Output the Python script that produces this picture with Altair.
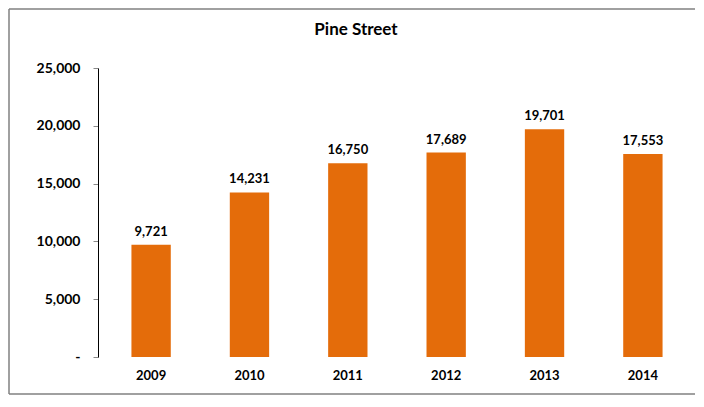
import altair as alt
import pandas as pd

years = ["2009", "2010", "2011", "2012", "2013", "2014"]
values = [9721, 14231, 16750, 17689, 19701, 17553]
y_ticks = [0, 5000, 10000, 15000, 20000, 25000]
title_text = "Pine Street"

df = pd.DataFrame({"year": years, "value": values})
FONT = "Lato"
ORANGE = "#E46C0A"
W = 598

base = alt.Chart(df)

bars = base.mark_bar(color=ORANGE).encode(
    x=alt.X(
        "year:N",
        title=None,
        sort=years,
        scale=alt.Scale(paddingInner=0.6, paddingOuter=0.34),
        axis=alt.Axis(
            domain=False, ticks=False, labelAngle=0, labelPadding=12,
            labelFont=FONT, labelFontWeight="bold", labelFontSize=13, labelColor="#000",
        ),
    ),
    y=alt.Y(
        "value:Q",
        title=None,
        scale=alt.Scale(domain=[0, 25000], nice=False),
        axis=alt.Axis(
            values=y_ticks, grid=False, domainColor="#000", domainWidth=1,
            tickColor="#888", tickSize=5, labelPadding=13,
            labelFont=FONT, labelFontWeight="bold", labelFontSize=14, labelColor="#000",
            labelExpr="datum.value == 0 ? '-' : format(datum.value, ',')",
        ),
    ),
)

labels = base.mark_text(
    font=FONT, fontWeight="bold", fontSize=13, color="#000", baseline="bottom", dy=-6
).encode(
    x=alt.X("year:N", sort=years),
    y="value:Q",
    text=alt.Text("value:Q", format=","),
)

one = pd.DataFrame({"k": [0]})

title_mark = alt.Chart(one).mark_text(
    font=FONT, fontWeight="bold", fontSize=17, color="#000", align="center", baseline="alphabetic"
).encode(
    x=alt.value(258),
    y=alt.value(-33),
    text=alt.value(title_text),
)

border_style = dict(color="#808080", strokeWidth=1.5)
left_line = alt.Chart(one).mark_rule(**border_style).encode(
    x=alt.value(-89), y=alt.value(-59), y2=alt.value(326)
)
top_line = alt.Chart(one).mark_rule(**border_style).encode(
    x=alt.value(-89), x2=alt.value(W - 1), y=alt.value(-59)
)
bottom_line = alt.Chart(one).mark_rule(**border_style).encode(
    x=alt.value(-89), x2=alt.value(W - 1), y=alt.value(326)
)

chart = alt.layer(bars, labels, title_mark, left_line, top_line, bottom_line).properties(
    width=W,
    height=289,
    autosize=alt.AutoSizeParams(type="none"),
    padding={"left": 90, "top": 60, "right": 0, "bottom": 38},
).configure_view(stroke=None)

chart.save("out.html", embed_options={"renderer": "svg", "actions": False})
